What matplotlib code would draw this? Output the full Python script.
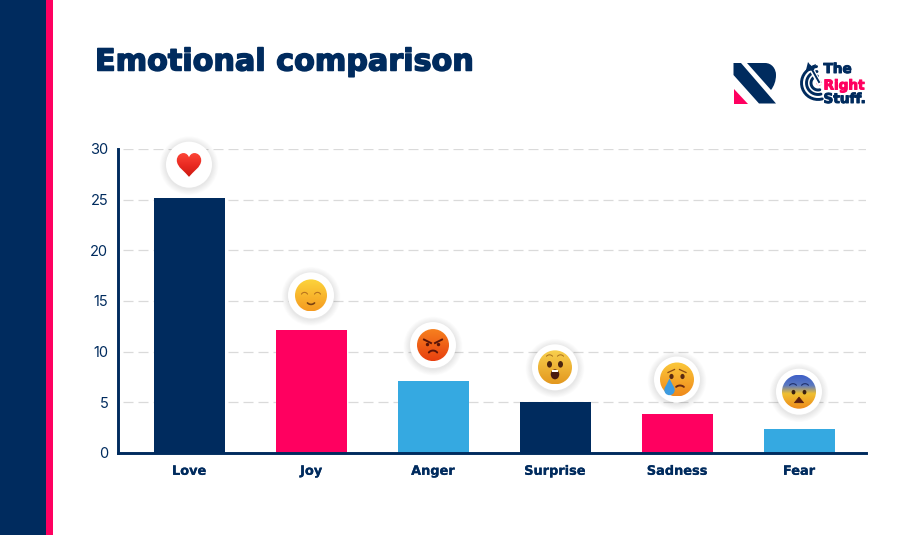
import numpy as np
import matplotlib
matplotlib.use("Agg")
import matplotlib.pyplot as plt
import matplotlib.patheffects as pe
from matplotlib.patches import Circle, Ellipse, Polygon, Rectangle, PathPatch
from matplotlib.path import Path
from matplotlib.colors import LinearSegmentedColormap
from matplotlib.transforms import ScaledTranslation

categories = ["Love", "Joy", "Anger", "Surprise", "Sadness", "Fear"]
values = [25.2, 12.1, 7.1, 5.0, 3.8, 2.4]
y_ticks = [0, 5, 10, 15, 20, 25, 30]
title = "Emotional comparison"

NAVY = "#002B5E"
PINK = "#FF0060"
BLUE = "#35A9E1"
bar_colors = [NAVY, PINK, BLUE, NAVY, PINK, BLUE]
FONT = ["Inter", "DejaVu Sans"]
BOLD = ["DejaVu Sans"]

W, H = 900, 535
fig = plt.figure(figsize=(W / 100, H / 100), dpi=100, facecolor="white")


def heavy(w, c=NAVY):
    return [pe.withStroke(linewidth=w, foreground=c)]


def ax_rect(l, t, r, b):
    return [l / W, 1 - b / H, (r - l) / W, (b - t) / H]


ax = fig.add_axes(ax_rect(118, 149, 865.5, 453))
ax.bar(range(len(values)), values, width=71 / 122, color=bar_colors, zorder=2)
ax.set_xlim(-71 / 122, (865.5 - 189) / 122)
ax.set_ylim(0, 30)
ax.set_yticks(y_ticks)
ax.set_xticks(range(len(categories)))
ax.set_xticklabels(categories, fontsize=9.3, fontweight="bold", color=NAVY, family=BOLD)
for t in ax.get_xticklabels():
    t.set_path_effects(heavy(0.15))
for t in ax.get_yticklabels():
    t.set_fontsize(10.5)
    t.set_color(NAVY)
    t.set_family(FONT)
    t.set_transform(t.get_transform() + ScaledTranslation(0, 1 / 100, fig.dpi_scale_trans))
ax.tick_params(axis="both", length=0)
ax.tick_params(axis="y", pad=7)
ax.tick_params(axis="x", pad=8.5)
ax.grid(axis="y", color="#DADADA", linewidth=0.9, linestyle=(8, (8, 4)), zorder=1)
ax.set_axisbelow(True)
for s in ["top", "right"]:
    ax.spines[s].set_visible(False)
for s in ["left", "bottom"]:
    ax.spines[s].set_color(NAVY)
    ax.spines[s].set_linewidth(2.1)

# overlay in pixel coordinates for the decoration
ov = fig.add_axes([0, 0, 1, 1], zorder=5)
ov.patch.set_alpha(0)
ov.axis("off")
ov.set_xlim(0, W)
ov.set_ylim(H, 0)

ov.add_patch(Rectangle((0, 0), 46, H, color=NAVY, lw=0))
ov.add_patch(Rectangle((46, 0), 7, H, color=PINK, lw=0))
ov.text(95, 70.5, title, fontsize=21.75, fontweight="bold", color=NAVY, family=BOLD, va="baseline",
        path_effects=heavy(1.1))


def gradient(cx, cy, r, colors, clip=None):
    cmap = LinearSegmentedColormap.from_list("g", colors)
    im = ov.imshow(np.linspace(0, 1, 64).reshape(-1, 1), cmap=cmap, aspect="auto",
                   extent=(cx - r, cx + r, cy + r, cy - r), origin="upper",
                   interpolation="bilinear", zorder=7)
    im.set_clip_path(clip if clip is not None else Circle((cx, cy), r, transform=ov.transData))


def badge(cx, cy):
    for i in range(8):
        ov.add_patch(Circle((cx, cy + 1), 23 + (8 - i) * 0.8, color="black", alpha=0.012, lw=0, zorder=6))
    ov.add_patch(Circle((cx, cy), 23, color="white", lw=0, zorder=6))


def arc(cx, cy, r, a0, a1, color, lw, z=8):
    a = np.radians(np.linspace(a0, a1, 20))
    ov.plot(cx + r * np.cos(a), cy - r * np.sin(a), color=color, lw=lw, zorder=z, solid_capstyle="round")


def heart(cx, cy):
    s = 12.2
    half = [(0, 1), (-0.3, 0.6), (-1, 0.2), (-1, -0.35), (-1, -0.75), (-0.7, -0.95), (-0.45, -0.95),
            (-0.2, -0.95), (-0.05, -0.75), (0, -0.6)]
    verts = half + [(-x, y) for x, y in reversed(half[:-1])]
    verts = [(cx + x * s, cy + y * s) for x, y in verts]
    codes = [Path.MOVETO] + [Path.CURVE4] * (len(verts) - 1)
    p = PathPatch(Path(verts, codes), transform=ov.transData, fc="none", ec="none", zorder=7)
    ov.add_patch(p)
    gradient(cx, cy, 14, ["#FF4A3A", "#EA2A22", "#C8180F"], clip=p)


def eyes(cx, cy, dx=5.5, dy=-3, rx=1.8, ry=None, color="#5A2A12"):
    ry = rx if ry is None else ry
    for sx in (-1, 1):
        ov.add_patch(Ellipse((cx + sx * dx, cy + dy), 2 * rx, 2 * ry, color=color, lw=0, zorder=8))


def joy(cx, cy):
    gradient(cx, cy, 16, ["#FCD43C", "#F59B20"])
    for sx in (-1, 1):
        arc(cx + sx * 6.5, cy + 0.5, 3.5, 30, 150, "#B8741E", 0.8)
    arc(cx, cy + 4, 5, 225, 315, "#7A4212", 1.2)


def anger(cx, cy):
    gradient(cx, cy, 16, ["#F6801F", "#E8400F"])
    eyes(cx, cy, 5.5, -0.5, 1.7, color="#5A1408")
    for sx in (-1, 1):
        ov.plot([cx + sx * 2, cx + sx * 9], [cy - 2, cy - 5.5], color="#5A1408", lw=1.4, zorder=8)
    arc(cx, cy + 11, 5.5, 40, 140, "#5A1408", 1.4)


def surprise(cx, cy):
    gradient(cx, cy, 17, ["#F8D04E", "#E3981F"])
    eyes(cx, cy, 5.5, -3, 2.5, 3.3, color="#4A2410")
    for sx in (-1, 1):
        arc(cx + sx * 5.5, cy - 8.5, 4, 40, 140, "#A8701E", 0.7)
    ov.add_patch(Ellipse((cx, cy + 7), 8.5, 10, color="#4A1A10", lw=0, zorder=8))
    ov.add_patch(Rectangle((cx - 3, cy + 2.5), 6, 2.4, color="white", lw=0, zorder=9))


def sad(cx, cy):
    gradient(cx, cy, 17, ["#FBC83A", "#EF8A1C"])
    eyes(cx, cy, 5.5, -3, 2.1, 2.6, color="#5A2A12")
    for sx in (-1, 1):
        ov.plot([cx + sx * 2.5, cx + sx * 9], [cy - 10, cy - 7], color="#8A4A12", lw=0.9, zorder=8)
    arc(cx + 3, cy + 12, 6, 50, 130, "#6A2A10", 1.4)
    ov.add_patch(Polygon([(cx - 7.5, cy - 1), (cx - 12.5, cy + 9), (cx - 2.5, cy + 9)], color="#3D9BE0", lw=0, zorder=9))
    ov.add_patch(Circle((cx - 7.5, cy + 10.5), 5.2, color="#3D9BE0", lw=0, zorder=9))


def fear(cx, cy):
    gradient(cx, cy, 17, [(0, "#3F60C8"), (0.3, "#5A78C0"), (0.55, "#F0C030"), (1, "#EE8A1C")])
    eyes(cx, cy, 5.5, 0.5, 1.9, 2.3, color="#3A2010")
    for sx in (-1, 1):
        arc(cx + sx * 6, cy - 3.5, 4.5, 40, 140, "#20306A", 0.8)
    ov.add_patch(Polygon([(cx, cy + 5.5), (cx + 4.5, cy + 11), (cx - 4.5, cy + 11)], color="#5A1E10", lw=0.6,
                         ec="#5A1E10", zorder=8, joinstyle="round"))


emoji = [heart, joy, anger, surprise, sad, fear]
gaps = [33, 35, 36, 35, 35, 37]
for i, (v, draw, gap) in enumerate(zip(values, emoji, gaps)):
    px = ax.transData.transform((i, v))
    cx, cy = ov.transData.inverted().transform(px)
    cy -= gap
    badge(cx, cy)
    draw(cx, cy)

# logos
ov.add_patch(Polygon([(733.5, 63), (741, 63), (776, 103.5), (759, 103.5), (733.5, 75)], color=NAVY, lw=0))
r_top = Path([(747, 63), (765, 63), (772, 63), (776, 69), (776, 75), (776, 81), (774, 86), (771, 90), (747, 63)],
             [Path.MOVETO, Path.LINETO, Path.CURVE4, Path.CURVE4, Path.CURVE4, Path.CURVE4, Path.CURVE4, Path.CURVE4, Path.CLOSEPOLY])
ov.add_patch(PathPatch(r_top, fc=NAVY, ec="none"))
ov.add_patch(Polygon([(733.5, 89), (733.5, 103.5), (748, 103.5)], color=PINK, lw=0))

for r in (16.5, 11.5, 7):
    arc(818, 83, r, 95, 285, NAVY, 2.1, z=3)
ov.add_patch(Circle((819, 83), 2.6, color=PINK, lw=0, zorder=4))
ov.plot([819, 810], [83, 66], color="white", lw=3.5, zorder=4)
ov.plot([819, 810], [82, 66], color=NAVY, lw=1.4, zorder=5)
ov.add_patch(Polygon([(806, 70), (808, 62), (811, 66), (816, 64), (814, 70), (809, 71)], color=NAVY, lw=0, zorder=5))
for txt, y, c in [("The", 73, NAVY), ("Right", 89.5, PINK), ("Stuff.", 103, NAVY)]:
    ov.text(823.5, y, txt, fontsize=9.8, fontweight="bold", color=c, family=BOLD, va="baseline", zorder=5,
            path_effects=heavy(0.7, c))

ov.set_xlim(0, W)
ov.set_ylim(H, 0)
fig.savefig("out.png", dpi=100)
